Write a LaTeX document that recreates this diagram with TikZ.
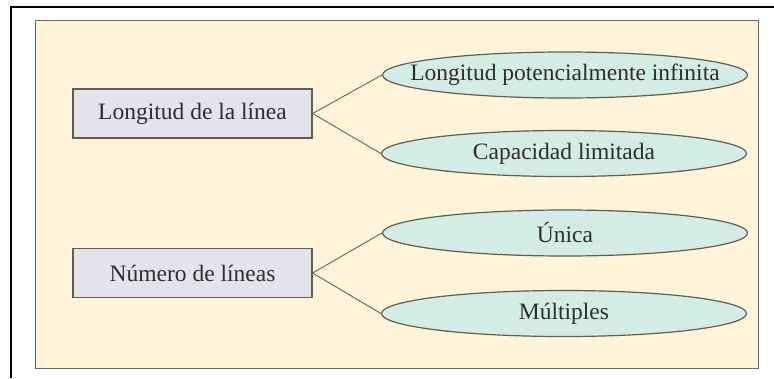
\documentclass[tikz,border=0pt]{standalone}
\usepackage{fontspec}
\setmainfont{Liberation Serif}
\usetikzlibrary{shapes.geometric}
\definecolor{panelfill}{HTML}{FFF4D9}
\definecolor{boxfill}{HTML}{E4E2EC}
\definecolor{ovalfill}{HTML}{D4ECE6}
\definecolor{edgegrey}{HTML}{5E5E55}
\definecolor{textgrey}{HTML}{2E2E2E}
\tikzstyle{block} = [rectangle, draw=edgegrey, line width=1.2pt, fill=boxfill, minimum width=239pt, minimum height=49pt, inner sep=0pt, text=textgrey, font=\fontsize{23.5}{26}\selectfont]
\tikzstyle{oval} = [ellipse, draw=edgegrey, line width=1.2pt, fill=ovalfill, minimum width=365pt, minimum height=46pt, inner xsep=-30pt, inner ysep=-4pt, text=textgrey, font=\fontsize{23.5}{26}\selectfont]
\tikzstyle{line} = [draw=edgegrey!90, line width=1pt]
\begin{document}
\begin{tikzpicture}[x=1pt, y=-1pt]
    \useasboundingbox (0,0) rectangle (774,378);
    % Frame and panel
    \draw [black, line width=2.2pt] (11,378) -- (11,7) -- (774,7);
    \draw [fill=panelfill, draw=gray!80!black, line width=1pt] (35,20) rectangle (758,368);
    % Place nodes
    \node [block] (length) at (192.5,113.5) {Longitud de la línea};
    \node [block] (count) at (192.5,273) {Número de líneas};
    \node [oval] (infinite) at (565,75) {Longitud potencialmente infinita};
    \node [oval] (limited) at (564,153.5) {Capacidad limitada};
    \node [oval] (single) at (565,233) {Única};
    \node [oval] (multiple) at (564,313.5) {Múltiples};
    % Draw edges
    \path [line] (length.east) -- (infinite.west);
    \path [line] (length.east) -- (limited.west);
    \path [line] (count.east) -- (single.west);
    \path [line] (count.east) -- (multiple.west);
\end{tikzpicture}
\end{document}
